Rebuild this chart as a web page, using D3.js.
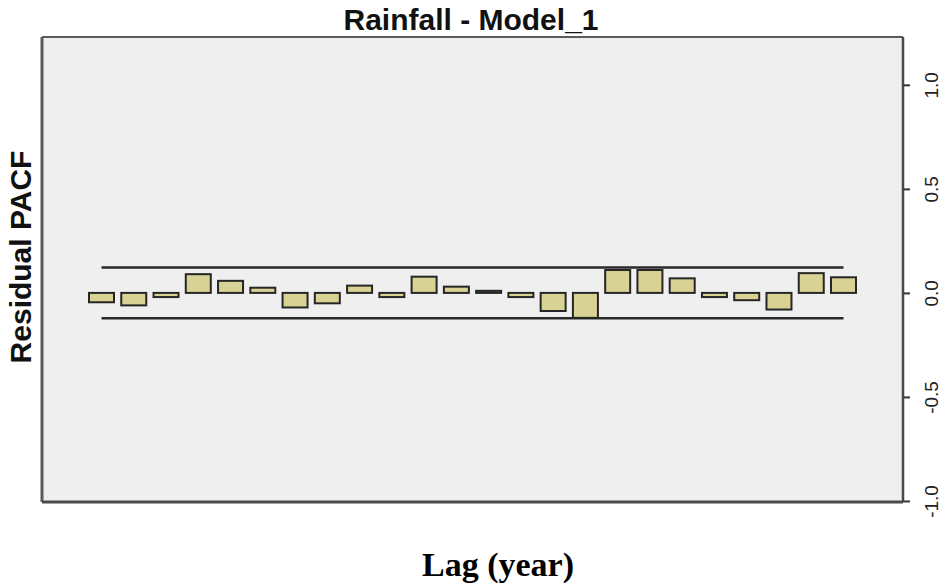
<!DOCTYPE html>
<html>
<head>
<meta charset="utf-8">
<script src="https://cdn.jsdelivr.net/npm/d3@7"></script>
<style>
  html, body { margin: 0; padding: 0; background: #ffffff; }
  svg { display: block; }
</style>
</head>
<body>
<script>
// ---- data ----
const lags = [1,2,3,4,5,6,7,8,9,10,11,12,13,14,15,16,17,18,19,20,21,22,23,24];
const pacf = [-0.045,-0.06,-0.02,0.09,0.058,0.025,-0.07,-0.05,0.035,-0.02,0.078,0.03,
              0.01,-0.02,-0.087,-0.12,0.11,0.11,0.07,-0.02,-0.035,-0.08,0.095,0.075];
const confLimit = [0.122, -0.122];
const yTicks = [1.0, 0.5, 0.0, -0.5, -1.0];
const titleText = "Rainfall - Model_1";
const yLabel = "Residual PACF";
const xLabel = "Lag (year)";

// ---- layout ----
const W = 945, H = 586;
const plot = {left: 42, right: 903, top: 37, bottom: 502};

const svg = d3.select("body").append("svg").attr("width", W).attr("height", H);

const x = d3.scaleLinear().domain([1, 24]).range([101.5, 843.5]);
const y = d3.scaleLinear().domain([-1.005, 1.23]).range([plot.bottom, plot.top]);
const barW = 25;

// plot background
svg.append("rect")
  .attr("x", plot.left).attr("y", plot.top)
  .attr("width", plot.right - plot.left).attr("height", plot.bottom - plot.top)
  .attr("fill", "#efefef");

// confidence limits
svg.selectAll("line.conf").data(confLimit).enter().append("line")
  .attr("class", "conf")
  .attr("x1", x(lags[0])).attr("x2", x(lags[lags.length - 1]))
  .attr("y1", d => y(d)).attr("y2", d => y(d))
  .attr("stroke", "#2a2a2a").attr("stroke-width", 2.5);

// bars
svg.selectAll("rect.bar").data(lags).enter().append("rect")
  .attr("class", "bar")
  .attr("x", d => x(d) - barW / 2)
  .attr("width", barW)
  .attr("y", (d, i) => y(Math.max(0, pacf[i])))
  .attr("height", (d, i) => Math.abs(y(pacf[i]) - y(0)))
  .attr("fill", "#d8d294")
  .attr("stroke", "#262626")
  .attr("stroke-width", 2);

// frame
const frame = svg.append("g");
frame.append("line").attr("x1", plot.left).attr("x2", plot.right).attr("y1", plot.top).attr("y2", plot.top)
  .attr("stroke", "#5a5a5a").attr("stroke-width", 2);
frame.append("line").attr("x1", plot.right).attr("x2", plot.right).attr("y1", plot.top).attr("y2", plot.bottom)
  .attr("stroke", "#4a4a4a").attr("stroke-width", 2.5);
frame.append("line").attr("x1", plot.left).attr("x2", plot.left).attr("y1", plot.top).attr("y2", plot.bottom)
  .attr("stroke", "#5a5a5a").attr("stroke-width", 3);
frame.append("line").attr("x1", plot.left).attr("x2", plot.right).attr("y1", plot.bottom).attr("y2", plot.bottom)
  .attr("stroke", "#4a4a4a").attr("stroke-width", 3);

// right axis
const fmt = d => d3.format(".1f")(d).replace("\u2212", "-");
const axis = d3.axisRight(y).tickValues(yTicks).tickSize(7).tickFormat(fmt);
const ag = svg.append("g").attr("transform", `translate(${plot.right},0)`).call(axis);
ag.select(".domain").remove();
ag.selectAll(".tick line").attr("stroke", "#333").attr("stroke-width", 2);
ag.selectAll(".tick text")
  .attr("x", 0).attr("y", 0).attr("dy", null)
  .attr("transform", "translate(35,0) rotate(-90)")
  .attr("text-anchor", "middle")
  .attr("dominant-baseline", "auto")
  .attr("font-family", "Liberation Sans, Arial, sans-serif")
  .attr("font-size", 19)
  .attr("fill", "#222");

// title
svg.append("text")
  .attr("x", 471).attr("y", 30)
  .attr("text-anchor", "middle")
  .attr("font-family", "Liberation Sans, Arial, sans-serif")
  .attr("font-weight", "bold").attr("font-size", 30)
  .attr("fill", "#111")
  .text(titleText);

// y label
svg.append("text")
  .attr("transform", "translate(31,257) rotate(-90)")
  .attr("text-anchor", "middle")
  .attr("font-family", "Liberation Sans, Arial, sans-serif")
  .attr("font-weight", "bold").attr("font-size", 30)
  .attr("fill", "#111")
  .text(yLabel);

// x label
svg.append("text")
  .attr("x", 498).attr("y", 576)
  .attr("text-anchor", "middle")
  .attr("font-family", "Liberation Serif, 'Times New Roman', serif")
  .attr("font-weight", "bold").attr("font-size", 34)
  .attr("fill", "#000")
  .text(xLabel);
</script>
</body>
</html>
